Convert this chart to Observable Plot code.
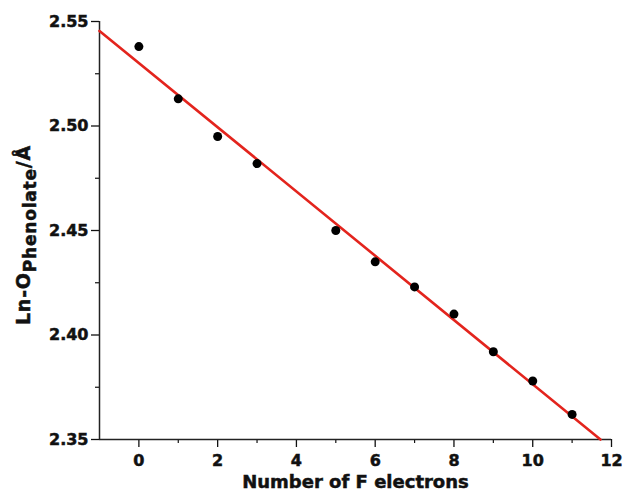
<!DOCTYPE html>
<html><head><meta charset="utf-8">
<script src="https://cdn.jsdelivr.net/npm/d3@7"></script>
<script src="https://cdn.jsdelivr.net/npm/@observablehq/plot@0.6"></script>
<style>body{margin:0;background:#fff} svg text{font-weight:bold}</style>
</head><body><div id="chart"></div>
<script>
const electrons = [0, 1, 2, 3, 5, 6, 7, 8, 9, 10, 11];
const distance = [2.538, 2.513, 2.495, 2.482, 2.450, 2.435, 2.423, 2.410, 2.392, 2.378, 2.362];
const fitX = [-1, 11.72];
const fitY = [2.5455, 2.35];
const xTicks = [0, 2, 4, 6, 8, 10, 12];
const xMinor = [1, 3, 5, 7, 9, 11];
const yTicks = [2.35, 2.40, 2.45, 2.50, 2.55];
const yMinor = [2.375, 2.425, 2.475, 2.525];
const xTitle = "Number of F electrons";
const yTitleMain = "Ln-O";
const yTitleSub = "Phenolate";
const yTitleUnit = "/Å";

const points = electrons.map((x, i) => ({x, y: distance[i]}));
const fit = fitX.map((x, i) => ({x, y: fitY[i]}));

const chart = Plot.plot({
  width: 624, height: 495,
  marginLeft: 99, marginRight: 13, marginTop: 21, marginBottom: 56,
  style: {fontFamily: "DejaVu Sans", fontWeight: "bold", fontSize: "15px", color: "#111", background: "#fff"},
  x: {domain: [-1, 12]},
  y: {domain: [2.35, 2.55]},
  marks: [
    Plot.axisX({ticks: xTicks, tickSize: 8, tickPadding: 7, label: null, fontSize: 16, fontWeight: "bold", strokeWidth: 1.3}),
    Plot.axisX({ticks: xMinor, tickSize: 4, tickFormat: () => "", label: null, strokeWidth: 1.2}),
    Plot.axisY({ticks: yTicks, tickSize: 8, tickPadding: 3, tickFormat: d3.format(".2f"), label: null, fontSize: 16, fontWeight: "bold", strokeWidth: 1.3}),
    Plot.axisY({ticks: yMinor, tickSize: 4, tickFormat: () => "", label: null, strokeWidth: 1.2}),
    Plot.ruleX([-1], {stroke: "#222", strokeWidth: 1.5}),
    Plot.ruleY([2.35], {stroke: "#222", strokeWidth: 1.5}),
    Plot.line(fit, {x: "x", y: "y", stroke: "#e3241d", strokeWidth: 2.6}),
    Plot.dot(points, {x: "x", y: "y", r: 4.5, fill: "#000", stroke: "none"}),
    Plot.text([xTitle], {frameAnchor: "bottom", dy: 48, fontSize: 18, fontWeight: "bold", fill: "#111", letterSpacing: "0.3px"})
  ]
});

const svg = d3.select(chart);
const t = svg.append("text")
  .attr("transform", "translate(30,235) rotate(-90)")
  .attr("text-anchor", "middle")
  .attr("font-family", "DejaVu Sans")
  .attr("font-weight", "bold")
  .attr("font-size", 19)
  .attr("letter-spacing", "0.8px")
  .attr("fill", "#111");
t.append("tspan").text(yTitleMain);
t.append("tspan").attr("dy", 6).attr("font-size", 17).text(yTitleSub);
t.append("tspan").attr("dy", -6).text(yTitleUnit);
svg.selectAll("text").attr("stroke", "#111").attr("stroke-width", 0.5).attr("paint-order", "stroke");

document.getElementById("chart").appendChild(chart);
</script>
</body></html>
